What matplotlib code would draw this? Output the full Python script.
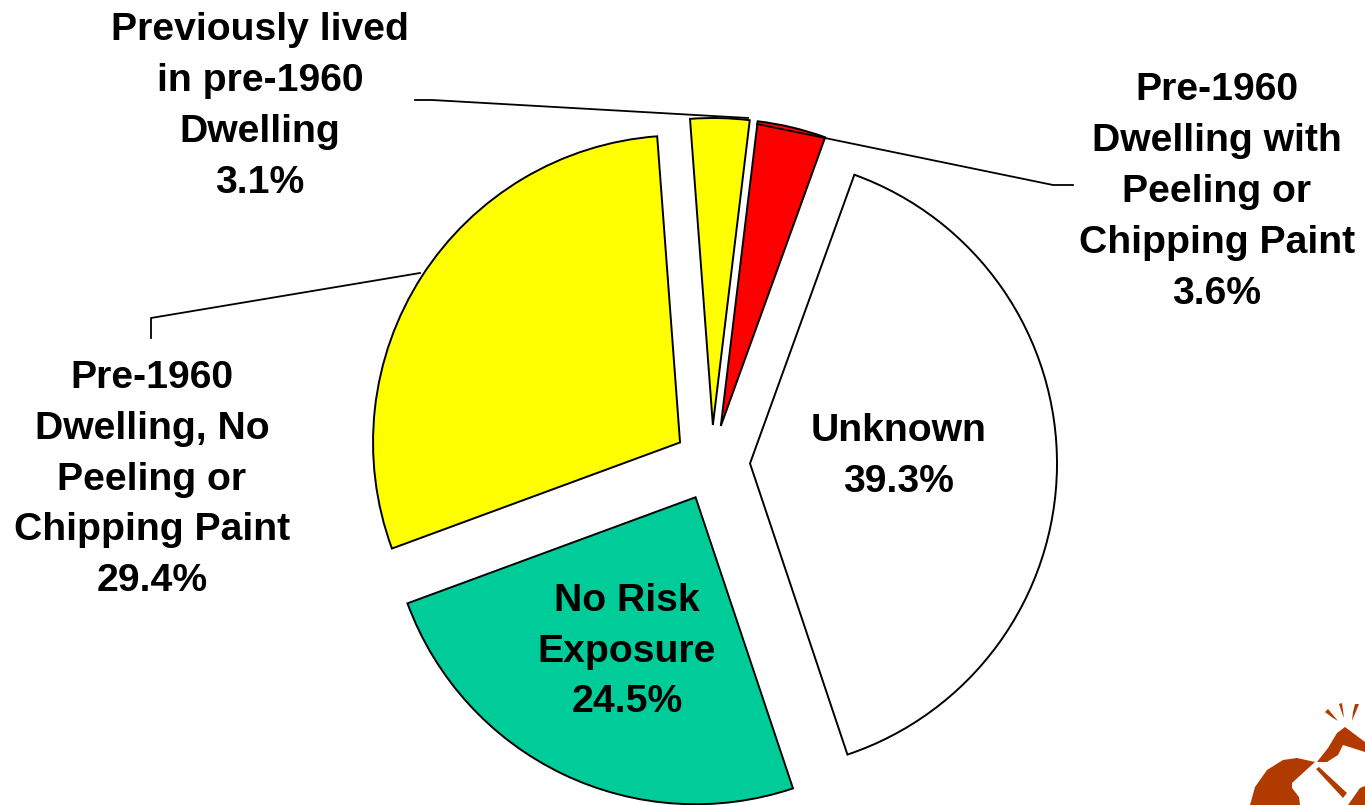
#!/usr/bin/python
# coding: utf-8
import matplotlib
matplotlib.use('Agg')
import matplotlib.pyplot as plt
from matplotlib.patches import Polygon

plt.rc('font', family=['Liberation Sans', 'DejaVu Sans'], weight='bold')

# clockwise from the top
categories = ['Pre-1960\nDwelling with\nPeeling or\nChipping Paint',
              'Unknown',
              'No Risk\nExposure',
              'Pre-1960\nDwelling, No\nPeeling or\nChipping Paint',
              'Previously lived\nin pre-1960\nDwelling']
values = [3.6, 39.3, 24.5, 29.4, 3.1]
colors = ['#ff0000', '#ffffff', '#00cc99', '#ffff00', '#ffff00']
explode = [38] * 5   # pie takes this in data units here

H = 805.
label_pos = [(1217, 192), (898.5, 456.5), (627, 651.5), (152, 479.5), (260, 106.5)]

fig = plt.figure(figsize=(13.65, 8.05), dpi=100)
ax = fig.add_axes([0, 0, 1, 1])

ax.pie(values, explode=explode, colors=colors, startangle=83.1, counterclock=False,
       center=(712, H-463), radius=307,
       wedgeprops=dict(edgecolor='k', linewidth=1.4))
ax.set_xlim(0, 1365)
ax.set_ylim(0, H)
ax.set_aspect('auto')
ax.axis('off')

# labels
for i in range(len(values)):
    x, y = label_pos[i]
    ax.text(x, H-y, '{}\n{:.1f}%'.format(categories[i], values[i]), ha='center', va='center',
            fontsize=28.2, fontweight='bold', color='k', linespacing=1.53)

# leader lines
ax.plot([415, 432, 748], [H-100, H-100, H-118], color='k', lw=1.3)
ax.plot([1073, 1053, 757], [H-185, H-185, H-124], color='k', lw=1.3)
ax.plot([151, 151, 420], [H-338, H-318, H-273], color='k', lw=1.3)

# logo in the corner
brown = '#b03a00'
logo = [
    [(1250, 805), (1255, 787), (1267, 770), (1283, 760), (1297, 758), (1315, 762), (1292, 783),
     (1292, 788), (1299, 797), (1300, 805)],
    [(1317, 762), (1328, 748), (1337, 733), (1345, 727), (1365, 742), (1365, 752),
     (1343, 745), (1338, 755), (1327, 762)],
    [(1316, 769), (1319, 767), (1347, 793), (1343, 798)],
    [(1325, 712), (1328, 709), (1338, 721), (1333, 718)],
    [(1339, 704), (1342, 703), (1344, 718), (1342, 713)],
    [(1355, 704), (1359, 704), (1352, 721), (1353, 712)],
    [(1348, 805), (1360, 788), (1365, 786), (1365, 805)],
]
for pts in logo:
    ax.add_patch(Polygon([(px, H-py) for px, py in pts], closed=True, color=brown, lw=0))

fig.savefig('out.png', dpi=100, facecolor='white')
